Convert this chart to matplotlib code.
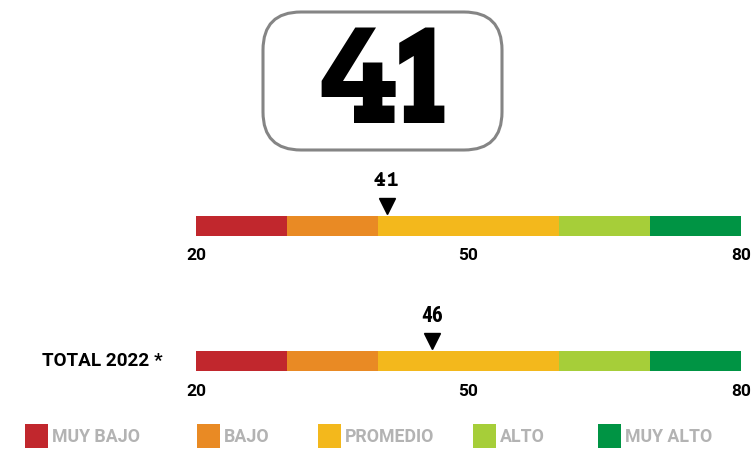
import matplotlib
matplotlib.use("Agg")
import matplotlib.pyplot as plt
from matplotlib.patches import FancyBboxPatch, Rectangle
from matplotlib import font_manager as fm

# ---- data ----
score = 41
band_labels = ["MUY BAJO", "BAJO", "PROMEDIO", "ALTO", "MUY ALTO"]
band_starts = [20, 30, 40, 60, 70]
band_widths = [10, 10, 20, 10, 10]
band_colors = ["#c1272d", "#e98a24", "#f3b81c", "#a6ce39", "#009444"]
row_labels = ["", "TOTAL 2022 *"]
row_values = [41, 46]
tick_vals = [20, 50, 80]

names = {f.name for f in fm.fontManager.ttflist}
def pick(*cands):
    for c in cands:
        if c in names:
            return c
    return "DejaVu Sans"

big_font = pick("Arvo", "Rokkitt", "DejaVu Serif")
slab_font = pick("Courier Prime", "Rokkitt", "DejaVu Serif")
cond = pick("Roboto Condensed", "Roboto")
sans = pick("Roboto", "Liberation Sans")

W, H = 751, 449
fig = plt.figure(figsize=(W / 100, H / 100), dpi=100)

# overlay axes in pixel units
ov = fig.add_axes([0, 0, 1, 1])
ov.set_xlim(0, W)
ov.set_ylim(H, 0)
ov.axis("off")

box = FancyBboxPatch((263 + 38, 12 + 38), 239 - 76, 138 - 76,
                     boxstyle="round,pad=38", fc="white", ec="#858585", lw=2.2)
ov.add_patch(box)
ov.text(384, 123, str(score), ha="center", va="baseline", fontsize=92,
        fontweight="bold", family=big_font, color="black")

bar_tops = [216, 351]
label_fonts = [(slab_font, 16.5), (cond, 15.5)]
for i, (lab, val) in enumerate(zip(row_labels, row_values)):
    top = bar_tops[i]
    ax = fig.add_axes([196 / W, 1 - (top + 20) / H, 545 / W, 20 / H])
    ax.barh([0.5], band_widths, left=band_starts, height=1, color=band_colors)
    ax.set_xlim(20, 80)
    ax.set_ylim(0, 1)
    for s in ax.spines.values():
        s.set_visible(False)
    ax.set_yticks([])
    ax.set_xticks(tick_vals)
    ax.set_xticklabels([str(t) for t in tick_vals], family=sans, fontweight="bold",
                       fontsize=12.5)
    ax.tick_params(axis="x", length=0, pad=9)
    ax.plot([val], [1.5], marker="v", color="black", markersize=12.2, clip_on=False)
    fnt, fs = label_fonts[i]
    ax.annotate(str(val), xy=(val, 1), xytext=(0, 25.5), textcoords="offset points",
                ha="center", va="center", fontsize=fs, fontweight="bold",
                family=fnt, color="black", annotation_clip=False)
    if lab:
        ov.text(163, top + 10, lab, ha="right", va="center", fontsize=13.6,
                fontweight="bold", family=sans, color="black")

# legend
leg_x = [25, 197, 318, 473, 598]
for x, lab, c in zip(leg_x, band_labels, band_colors):
    ov.add_patch(Rectangle((x, 424), 23, 24, fc=c, ec="none"))
    ov.text(x + 27, 437, lab, ha="left", va="center", fontsize=12.8,
            fontweight="bold", family=sans, color="#b3b3b3")

fig.savefig("out.png", dpi=100)
